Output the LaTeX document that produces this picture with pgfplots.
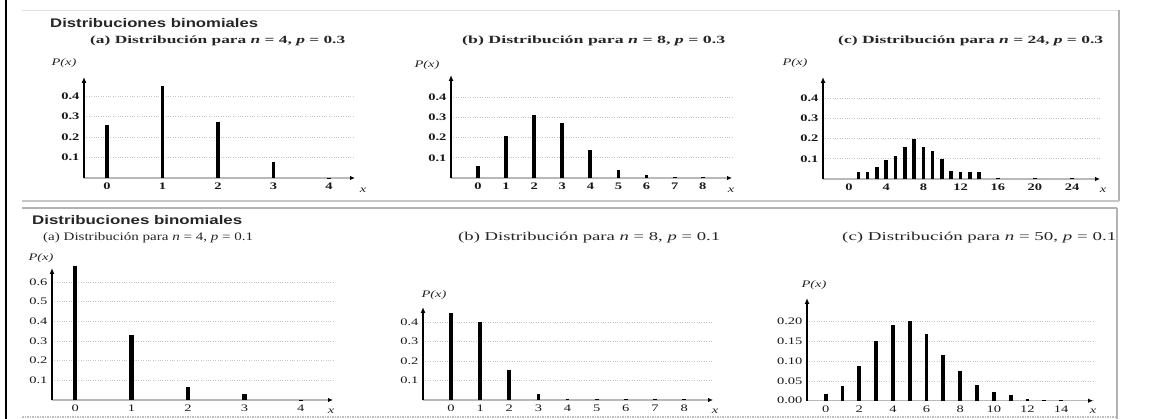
\documentclass[border=0pt]{standalone}
\usepackage{fontspec}
\setmainfont{Liberation Serif}
\newfontfamily\headfont{Liberation Sans}
\usepackage{graphicx}
\usepackage{pgfplots}
\pgfplotsset{compat=1.18}
\usetikzlibrary{arrows.meta}

\newcommand\fitw[2]{\resizebox{#1}{\height}{#2}}
\newcommand\sx[1]{\scalebox{1.45}[1]{#1}}

\pgfplotsset{
  binax/.style={
    scale only axis, anchor=south west, clip=false,
    axis lines=left,
    x axis line style={draw=gray!55, line width=1.6pt, -{Latex[length=5pt,width=4.5pt,color=black]}},
    y axis line style={draw=black, line width=1.3pt, -{Latex[length=6pt,width=5pt,color=black]}},
    ymajorgrids, grid style={gray!45, dotted, line width=0.8pt},
    tick style={draw=none}, major tick length=0pt,
    ymin=0,
    /pgf/number format/assume math mode=true,
    /pgf/number format/.cd, fixed, fixed zerofill, precision=1, /pgfplots/.cd,
    tick label style={font=\fontsize{10}{10}\selectfont, text=black!90},
    xticklabel={\sx{\pgfmathprintnumber[precision=0,fixed zerofill=false]{\tick}}},
    yticklabel={\sx{\pgfmathprintnumber{\tick}}},
    yticklabel style={xshift=-1pt},
    xticklabel style={yshift=-1.5pt},
  },
  toprow/.style={tick label style={font=\bfseries\fontsize{10}{10}\selectfont}},
  bars/.style={ycomb, black, line width=3.8pt, no markers},
}

\begin{document}
\begin{tikzpicture}
\path[use as bounding box] (0,0) rectangle (1151pt,419pt);

% frames
\draw[black, line width=2.5pt] (6pt,0pt) -- (6pt,419pt);
\draw[gray!25, line width=0.8pt] (22pt,409pt) -- (1119pt,409pt);
\draw[gray!60, line width=2pt] (1119pt,409pt) -- (1119pt,218pt);
\draw[gray!45, line width=1.2pt] (22pt,218pt) -- (1119pt,218pt);
\draw[gray!60, line width=2.5pt] (22pt,211pt) -- (1117pt,211pt);
\draw[gray!60, line width=2pt] (1117pt,211pt) -- (1117pt,0pt);
\draw[gray!50, line width=1.5pt, densely dotted] (22pt,2pt) -- (1117pt,2pt);

% ---------- top row ----------
\begin{axis}[binax, toprow, at={(84pt,241pt)}, width=271pt, height=101pt,
  xmin=-0.414, xmax=4.468, ymax=0.493,
  xtick={0,1,2,3,4}, ytick={0.1,0.2,0.3,0.4}]
\addplot[bars] coordinates {(0,0.258) (1,0.449) (2,0.275) (3,0.080) (4,0.002)};
\end{axis}

\begin{axis}[binax, toprow, at={(451pt,241pt)}, width=281pt, height=103pt,
  xmin=-0.96, xmax=9.04, ymax=0.509,
  xtick={0,1,...,8}, ytick={0.1,0.2,0.3,0.4}]
\addplot[bars] coordinates {(0,0.061) (1,0.209) (2,0.313) (3,0.271) (4,0.140) (5,0.041) (6,0.014) (7,0.005) (8,0.003)};
\end{axis}

\begin{axis}[binax, toprow, at={(823pt,240pt)}, width=277pt, height=102pt,
  xmin=-2.8, xmax=27.0, ymax=0.504,
  xtick={0,4,...,24}, ytick={0.1,0.2,0.3,0.4}]
\addplot[bars, line width=3.6pt] coordinates {(1,0.033) (2,0.033) (3,0.057) (4,0.094) (5,0.115) (6,0.160) (7,0.197) (8,0.160) (9,0.136) (10,0.098) (11,0.041) (12,0.036) (13,0.033) (14,0.033) (16,0.004) (20,0.004) (24,0.006)};
\end{axis}

% ---------- bottom row ----------
\begin{axis}[binax, at={(52pt,19pt)}, width=281pt, height=132pt,
  xmin=-0.41, xmax=4.57, ymax=0.671,
  xtick={0,1,2,3,4}, ytick={0.1,0.2,0.3,0.4,0.5,0.6}]
\addplot[bars, line width=4.2pt] coordinates {(0,0.680) (1,0.330) (2,0.068) (3,0.030) (4,0.001)};
\end{axis}

\begin{axis}[binax, at={(423pt,19pt)}, width=290pt, height=93pt,
  xmin=-0.96, xmax=8.99, ymax=0.477,
  xtick={0,1,...,8}, ytick={0.1,0.2,0.3,0.4}]
\addplot[bars] coordinates {(0,0.446) (1,0.400) (2,0.154) (3,0.032) (4,0.007) (5,0.006) (6,0.006) (7,0.006) (8,0.006)};
\end{axis}

\begin{axis}[binax, at={(807pt,18.3pt)}, width=286pt, height=102.7pt,
  xmin=-1.11, xmax=15.9, ymax=0.26,
  xtick={0,2,...,14}, ytick={0,0.05,0.10,0.15,0.20},
  /pgf/number format/precision=2]
\addplot[bars] coordinates {(0,0.017) (1,0.038) (2,0.087) (3,0.150) (4,0.192) (5,0.201) (6,0.168) (7,0.115) (8,0.074) (9,0.040) (10,0.023) (11,0.014) (12,0.004) (13,0.002) (14,0.003)};
\end{axis}

% ---------- texts ----------
\begin{scope}[every node/.style={inner sep=0pt, text=black!85}]
\node[anchor=west, font=\headfont\bfseries\fontsize{12.5}{13}\selectfont] at (50pt,396pt) {\fitw{208pt}{Distribuciones binomiales}};
\node[anchor=west, font=\bfseries\fontsize{11}{12}\selectfont] at (90pt,378pt) {\fitw{255pt}{(a) Distribución para \textit{n} = 4, \textit{p} = 0.3}};
\node[anchor=west, font=\bfseries\fontsize{11}{12}\selectfont] at (462pt,378pt) {\fitw{263pt}{(b) Distribución para \textit{n} = 8, \textit{p} = 0.3}};
\node[anchor=west, font=\bfseries\fontsize{11}{12}\selectfont] at (838pt,378pt) {\fitw{265pt}{(c) Distribución para \textit{n} = 24, \textit{p} = 0.3}};

\node[anchor=west, font=\headfont\bfseries\fontsize{12.5}{13}\selectfont] at (32pt,199pt) {\fitw{210pt}{Distribuciones binomiales}};
\node[anchor=west, font=\fontsize{11.5}{12}\selectfont] at (43pt,181pt) {\fitw{210pt}{(a) Distribución para \textit{n} = 4, \textit{p} = 0.1}};
\node[anchor=west, font=\fontsize{12}{13}\selectfont] at (458pt,181pt) {\fitw{262pt}{(b) Distribución para \textit{n} = 8, \textit{p} = 0.1}};
\node[anchor=west, font=\fontsize{12}{13}\selectfont] at (842pt,181pt) {\fitw{274pt}{(c) Distribución para \textit{n} = 50, \textit{p} = 0.1}};

\begin{scope}[every node/.append style={font=\itshape\fontsize{10}{10}\selectfont}]
\node at (64pt,356pt) {\sx{P(x)}};
\node at (427pt,354pt) {\sx{P(x)}};
\node at (795pt,356pt) {\sx{P(x)}};
\node at (41pt,161pt) {\sx{P(x)}};
\node at (434pt,124pt) {\sx{P(x)}};
\node at (814pt,134pt) {\sx{P(x)}};
\node at (363pt,229pt) {\sx{x}};
\node at (731pt,229pt) {\sx{x}};
\node at (1103pt,229pt) {\sx{x}};
\node at (331pt,8pt) {\sx{x}};
\node at (715pt,8pt) {\sx{x}};
\node at (1093pt,8pt) {\sx{x}};
\end{scope}
\end{scope}
\end{tikzpicture}
\end{document}
